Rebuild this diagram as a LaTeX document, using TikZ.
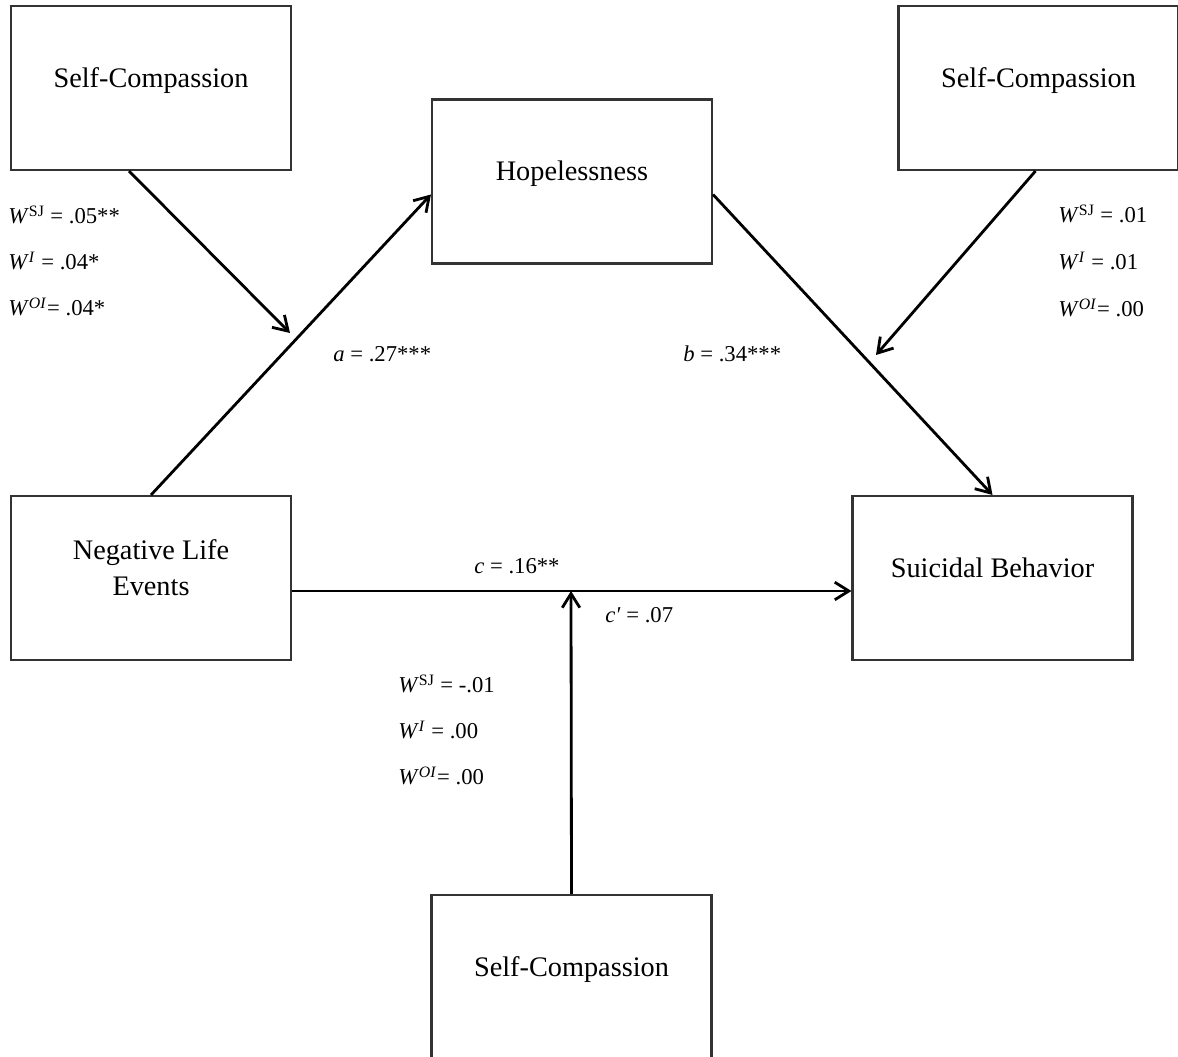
\documentclass[tikz,border=0pt]{standalone}
\usepackage{fontspec}
\setmainfont{Liberation Serif}
\usetikzlibrary{arrows.meta}

\newcommand{\Wsup}[1]{\textit{W}\textsuperscript{#1}}

\begin{document}
\begin{tikzpicture}[x=0.02cm,y=-0.02cm,
  box/.style={draw=black!80, line width=1.2pt, minimum width=5.6cm, minimum height=3.28cm,
    inner sep=0pt, align=center, font=\fontsize{16.1}{20.4}\selectfont, text depth=0.42cm},
  arr/.style={line width=1.6pt, -{Straight Barb[length=8pt,width=10pt,line width=1.6pt]}},
  coef/.style={anchor=base west, inner sep=0pt, font=\fontsize{12.9}{15}\selectfont}]

\useasboundingbox (0,0) rectangle (1178,1057);

% the boxes
\node[box] (scL) at (151,88) {Self-Compassion};
\node[box] (scR) at (1038.5,88) {Self-Compassion};
\node[box] (hope) at (572,181.5) {Hopelessness};
\node[box] (nle) at (151,578) {Negative Life\\Events};
\node[box] (sb) at (992.5,578) {Suicidal Behavior};
\node[box] (scB) at (571.5,977) {Self-Compassion};

% where the moderators hit the paths
\coordinate (aTip) at (290,333);
\coordinate (bTip) at (876,355);
\coordinate (cTip) at (571,591);

% main paths
\draw[arr] (nle.north) -- ([yshift=-0.26cm]hope.west);
\draw[arr] ([yshift=-0.26cm]hope.east) -- (sb.north);
\draw[arr] ([yshift=-0.26cm]nle.east) -- ([yshift=-0.26cm]sb.west);

% moderation arrows
\draw[arr] ([xshift=-0.44cm]scL.south) -- (aTip);
\draw[arr] ([xshift=-0.06cm]scR.south) -- (bTip);
\draw[arr] (scB.north) -- (cTip);

% path coefficients
\node[coef] (acoef) at (333,362) {\textit{a} = .27***};
\node[coef] (bcoef) at (683,362) {\textit{b} = .34***};
\node[coef] (ccoef) at (474,574) {\textit{c} = .16**};
\node[coef] (cpcoef) at (605,623) {\textit{c′} = .07};

% interaction weights
\foreach \t [count=\i] in {{\Wsup{SJ} = .05**}, {\Wsup{\textit{I}} = .04*}, {\Wsup{\textit{OI}}= .04*}}
  \node[coef] (wl\i) at (8,{224+46*(\i-1)}) {\t};
\foreach \t [count=\i] in {{\Wsup{SJ} = .01}, {\Wsup{\textit{I}} = .01}, {\Wsup{\textit{OI}}= .00}}
  \node[coef] (wr\i) at (1058,{223+47*(\i-1)}) {\t};
\foreach \t [count=\i] in {{\Wsup{SJ} = -.01}, {\Wsup{\textit{I}} = .00}, {\Wsup{\textit{OI}}= .00}}
  \node[coef] (wb\i) at (398,{693+46*(\i-1)}) {\t};

\end{tikzpicture}
\end{document}
